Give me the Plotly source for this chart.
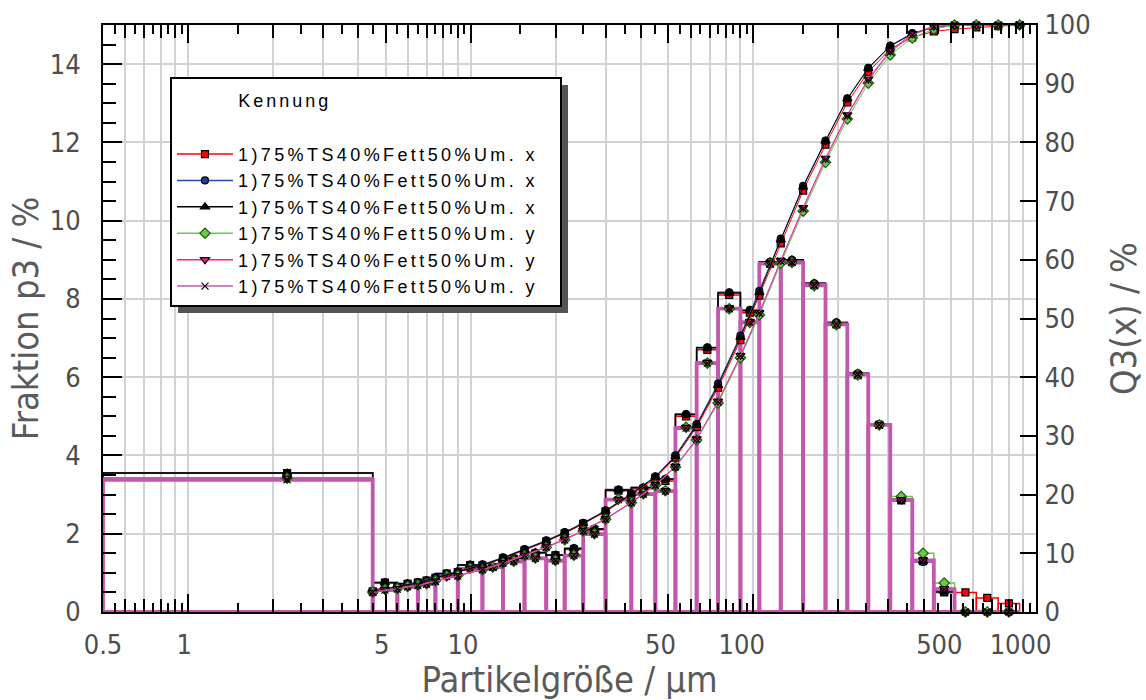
import math
import plotly.graph_objects as go

# ---------------- data ----------------
# class limits (µm)
edges = [0.5, 4.5, 5.5, 6.5, 7.5, 9, 11, 13, 15.5, 18.5, 21.5, 25, 30, 37, 45, 53,
         63, 75, 90, 105, 125, 150, 180, 215, 255, 305, 365, 435, 515, 615, 735, 875]
# class mid points where the p3 markers sit
class_mid = [2.24, 4.97, 5.98, 6.98, 8.22, 9.95, 11.96, 14.2, 16.93, 19.94, 23.18,
             27.39, 33.32, 40.8, 48.84, 57.78, 68.74, 82.16, 97.21, 114.56, 136.93,
             164.3, 196.72, 234.15, 278.88, 333.65, 398.47, 473.31, 562.78, 672.33, 801.95]

series_names = ["1)75%TS40%Fett50%Um. x", "1)75%TS40%Fett50%Um. x", "1)75%TS40%Fett50%Um. x",
                "1)75%TS40%Fett50%Um. y", "1)75%TS40%Fett50%Um. y", "1)75%TS40%Fett50%Um. y"]

# p3 fraction per class (%)
p3_red = [3.55, 0.75, 0.72, 0.80, 0.98, 1.20, 1.15, 1.36, 1.50, 1.45, 1.60, 2.10, 3.10, 3.15, 3.35,
          5.00, 6.70, 8.10, 7.65, 8.90, 8.95, 8.35, 7.35, 6.05, 4.78, 2.85, 1.30, 0.50, 0.50, 0.36, 0.22]
p3_blue = [3.55, 0.76, 0.73, 0.81, 0.99, 1.21, 1.16, 1.38, 1.52, 1.46, 1.63, 2.13, 3.13, 3.18, 3.40,
           5.06, 6.76, 8.17, 7.72, 8.95, 9.00, 8.40, 7.40, 6.10, 4.80, 2.86, 1.28, 0.52, 0.0, 0.0, 0.0]
p3_black = [3.55, 0.75, 0.72, 0.80, 0.98, 1.20, 1.15, 1.38, 1.52, 1.45, 1.62, 2.12, 3.12, 3.18, 3.40,
            5.05, 6.75, 8.15, 7.70, 8.95, 9.00, 8.40, 7.40, 6.10, 4.80, 2.88, 1.30, 0.52, 0.0, 0.0, 0.0]
p3_green = [3.42, 0.58, 0.65, 0.72, 0.92, 1.12, 1.15, 1.30, 1.38, 1.32, 1.45, 2.00, 2.88, 3.02, 3.10,
            4.72, 6.36, 7.75, 7.40, 8.90, 8.93, 8.34, 7.34, 6.06, 4.78, 2.95, 1.50, 0.74, 0.0, 0.0, 0.0]
p3_magenta = [3.42, 0.58, 0.65, 0.72, 0.92, 1.12, 1.15, 1.30, 1.38, 1.32, 1.45, 2.00, 2.88, 3.02, 3.10,
              4.72, 6.38, 7.77, 7.42, 8.92, 8.95, 8.36, 7.36, 6.08, 4.79, 2.87, 1.33, 0.60, 0.0, 0.0, 0.0]
p3_violet = [3.38, 0.56, 0.64, 0.71, 0.91, 1.11, 1.14, 1.29, 1.37, 1.31, 1.44, 1.99, 2.87, 3.01, 3.09,
             4.70, 6.36, 7.75, 7.40, 8.90, 8.93, 8.35, 7.35, 6.07, 4.78, 2.86, 1.32, 0.58, 0.0, 0.0, 0.0]

# Q3 cumulative (%) at the upper class limits edges[1:]
q3_red = [3.5, 4.3, 5.0, 5.8, 6.8, 7.9, 9.1, 10.5, 12.0, 13.4, 15.0, 17.1, 19.9, 22.8, 26.3, 31.5,
          38.2, 46.3, 53.9, 62.8, 71.8, 79.6, 86.8, 92.0, 95.9, 97.9, 98.9, 99.3, 99.6, 99.8, 100.0]
q3_blue = [3.5, 4.3, 5.1, 5.9, 6.9, 8.1, 9.3, 10.7, 12.2, 13.6, 15.2, 17.3, 20.2, 23.1, 26.7, 32.0,
           38.9, 47.1, 54.7, 63.6, 72.6, 80.3, 87.5, 92.7, 96.5, 98.6, 99.6, 100.0, 100.0, 100.0, 100.0]
q3_black = [3.5, 4.3, 5.0, 5.8, 6.8, 8.0, 9.2, 10.6, 12.1, 13.5, 15.1, 17.2, 20.1, 23.0, 26.5, 31.8,
            38.6, 46.8, 54.4, 63.4, 72.4, 80.2, 87.4, 92.6, 96.4, 98.5, 99.6, 100.0, 100.0, 100.0, 100.0]
q3_green = [3.4, 4.0, 4.6, 5.3, 6.2, 7.2, 8.3, 9.6, 11.0, 12.3, 13.8, 15.8, 18.6, 21.6, 24.7, 29.3,
            35.6, 43.3, 50.6, 59.4, 68.3, 76.6, 84.0, 90.1, 94.9, 97.8, 99.3, 100.0, 100.0, 100.0, 100.0]
q3_magenta = [3.4, 4.0, 4.6, 5.3, 6.2, 7.3, 8.4, 9.7, 11.1, 12.4, 13.9, 15.9, 18.7, 21.7, 24.8, 29.5,
              35.9, 43.7, 51.0, 59.9, 68.9, 77.3, 84.7, 90.8, 95.6, 98.5, 99.8, 100.0, 100.0, 100.0, 100.0]
q3_violet = [3.3, 3.9, 4.5, 5.2, 6.1, 7.2, 8.3, 9.6, 11.0, 12.3, 13.8, 15.8, 18.6, 21.6, 24.7, 29.4,
             35.8, 43.6, 50.9, 59.8, 68.7, 77.1, 84.5, 90.6, 95.4, 98.3, 99.7, 100.0, 100.0, 100.0, 100.0]

# axis ticks
x_major = [0.5, 1, 5, 10, 50, 100, 500, 1000]
x_major_text = ["0.5", "1", "5", "10", "50", "100", "500", "1000"]
x_grid = [0.6, 0.7, 0.8, 0.9, 2, 3, 4, 6, 7, 8, 9, 20, 30, 40, 60, 70, 80, 90,
          200, 300, 400, 600, 700, 800, 900]
x_half = [0.55, 0.65, 0.75, 0.85, 0.95, 1.5, 2.5, 3.5, 4.5, 5.5, 6.5, 7.5, 8.5, 9.5,
          15, 25, 35, 45, 55, 65, 75, 85, 95, 150, 250, 350, 450, 550, 650, 750, 850, 950]
y_left_ticks = [0, 2, 4, 6, 8, 10, 12, 14]
y_right_ticks = [0, 10, 20, 30, 40, 50, 60, 70, 80, 90, 100]

# ---------------- styles ----------------
styles = [
    dict(line="#ff0000", sym="square", fill="#ff0000", mline="#000000", bw=1.5, size=7),
    dict(line="#2b4aa8", sym="circle", fill="#1f3d99", mline="#000000", bw=1.5, size=7),
    dict(line="#000000", sym="triangle-up", fill="#000000", mline="#000000", bw=1.5, size=8),
    dict(line="#66cc44", sym="diamond", fill="#66cc44", mline="#1e5a10", bw=1.5, size=8),
    dict(line="#ff1a8c", sym="triangle-down", fill="#ff1a8c", mline="#000000", bw=2.0, size=8),
    dict(line="#c357ae", sym="x-thin", fill="#000000", mline="#000000", bw=3.8, size=7),
]
p3_all = [p3_red, p3_blue, p3_black, p3_green, p3_magenta, p3_violet]
q3_all = [q3_red, q3_blue, q3_black, q3_green, q3_magenta, q3_violet]

fig = go.Figure()


def bar_outline(vals):
    xs, ys = [], []
    for lo, hi, v in zip(edges[:-1], edges[1:], vals):
        xs += [lo, lo, hi, hi, lo, None]
        ys += [0, v, v, 0, 0, None]
    return xs, ys


# histogram outlines
for st, vals in zip(styles, p3_all):
    bx, by = bar_outline(vals)
    fig.add_trace(go.Scatter(x=bx, y=by, mode="lines", line=dict(color=st["line"], width=st["bw"]),
                             showlegend=False, hoverinfo="skip", connectgaps=False))

# cumulative curves (right axis)
for name, st, vals in zip(series_names, styles, q3_all):
    fig.add_trace(go.Scatter(
        x=edges[1:], y=vals, yaxis="y2", mode="lines+markers", name=name,
        line=dict(color=st["line"], width=1),
        marker=dict(symbol=st["sym"], size=st["size"], color=st["fill"],
                    line=dict(color=st["mline"], width=1.2)),
        cliponaxis=False, showlegend=False))

# p3 markers at class mids
for st, vals in zip(styles, p3_all):
    fig.add_trace(go.Scatter(
        x=class_mid, y=vals, mode="markers",
        marker=dict(symbol=st["sym"], size=st["size"], color=st["fill"],
                    line=dict(color=st["mline"], width=1.2)),
        cliponaxis=False, showlegend=False, hoverinfo="skip"))

# legend entries
sp = "letter-spacing:3.4px"
for name, st in zip(series_names, styles):
    fig.add_trace(go.Scatter(
        x=[None], y=[None], mode="lines+markers",
        name='<span style="%s">%s\u00a0\u00a0</span>' % (sp, name),
        line=dict(color=st["line"], width=1.5),
        marker=dict(symbol=st["sym"], size=st["size"], color=st["fill"],
                    line=dict(color=st["mline"], width=1.2))))

# dummy trace for the short half-step tick axis
fig.add_trace(go.Scatter(x=[1], y=[None], xaxis="x3", mode="markers", showlegend=False,
                         hoverinfo="skip"))

narrow = ("DejaVu Sans Condensed, Noto Sans Condensed, Noto Sans ExtraCondensed, "
          "Liberation Sans Narrow, Arial Narrow, Liberation Sans, sans-serif")
tick_font = dict(family=narrow, size=27, color="#4d4d4d")
title_font = dict(family=narrow, size=36, color="#5a5a5a")
grid_c = "#d2d2d2"
xr = [math.log10(0.5), 3]
# labels sit slightly left of their ticks in the original
x_tick_text = [t + "\u00a0" * n for t, n in zip(x_major_text, [0, 1, 1, 2, 2, 3, 3, 4])]

legend_title = ("\u00a0<br>" + "\u00a0" * 21 +
                '<span style="font-size:18px;letter-spacing:3px">Kennung</span><br>\u00a0<br>\u00a0')

fig.update_layout(
    width=1146, height=700, autosize=False,
    margin=dict(l=103, r=110, t=25, b=88, autoexpand=False),
    paper_bgcolor="white", plot_bgcolor="white",
    xaxis=dict(type="log", range=xr, tickmode="array", tickvals=x_major, ticktext=x_tick_text,
               ticks="inside", ticklen=18, tickwidth=2, tickcolor="black",
               showgrid=True, gridcolor=grid_c, gridwidth=2,
               minor=dict(tickmode="array", tickvals=x_grid, ticks="inside", ticklen=13,
                          tickwidth=2, tickcolor="black", showgrid=True, gridcolor=grid_c,
                          gridwidth=2),
               showline=True, linecolor="black", linewidth=2, mirror="ticks",
               tickfont=tick_font, ticklabelstandoff=8, automargin=False,
               title=dict(text="Partikelgröße / µm", font=title_font, standoff=12),
               zeroline=False),
    xaxis3=dict(type="log", range=xr, overlaying="x", anchor="y", tickmode="array",
                tickvals=x_half, ticks="inside", ticklen=9, tickwidth=2, tickcolor="black",
                showticklabels=False, showgrid=False, mirror="ticks", showline=False,
                zeroline=False, automargin=False),
    yaxis=dict(range=[0, 15], tickmode="array", tickvals=y_left_ticks,
               ticks="inside", ticklen=19, tickwidth=2, tickcolor="black",
               showgrid=True, gridcolor=grid_c, gridwidth=2,
               minor=dict(dtick=0.5, ticks="inside", ticklen=13, tickwidth=2,
                          tickcolor="black", showgrid=False),
               showline=True, linecolor="black", linewidth=2,
               tickfont=tick_font, ticklabelstandoff=15, automargin=False,
               title=dict(text="Fraktion p3 / %", font=title_font, standoff=0),
               zeroline=False),
    yaxis2=dict(range=[0, 100], overlaying="y", side="right", tickmode="array",
                tickvals=y_right_ticks,
                ticks="inside", ticklen=16, tickwidth=2, tickcolor="black",
                showgrid=False, showline=True, linecolor="black", linewidth=2,
                tickfont=tick_font, ticklabelstandoff=1, automargin=False,
                title=dict(text="Q3(x) / %", font=title_font, standoff=21),
                zeroline=False),
    legend=dict(x=0.0718, y=0.912, xanchor="left", yanchor="top",
                bgcolor="white", bordercolor="black", borderwidth=2,
                font=dict(family="Liberation Sans, Arial, sans-serif", size=18, color="black"),
                title=dict(text=legend_title,
                           font=dict(family="Liberation Sans, Arial, sans-serif", size=11,
                                     color="black")),
                itemwidth=56, tracegroupgap=0),
    shapes=[dict(type="rect", xref="paper", yref="paper", layer="above",
                 x0=(178 - 103) / 933, x1=(568 - 103) / 933,
                 y0=(612 - 313) / 587, y1=(612 - 85) / 587,
                 fillcolor="#555555", line=dict(width=0))],
    showlegend=True,
)

fig.write_html("out.html")
